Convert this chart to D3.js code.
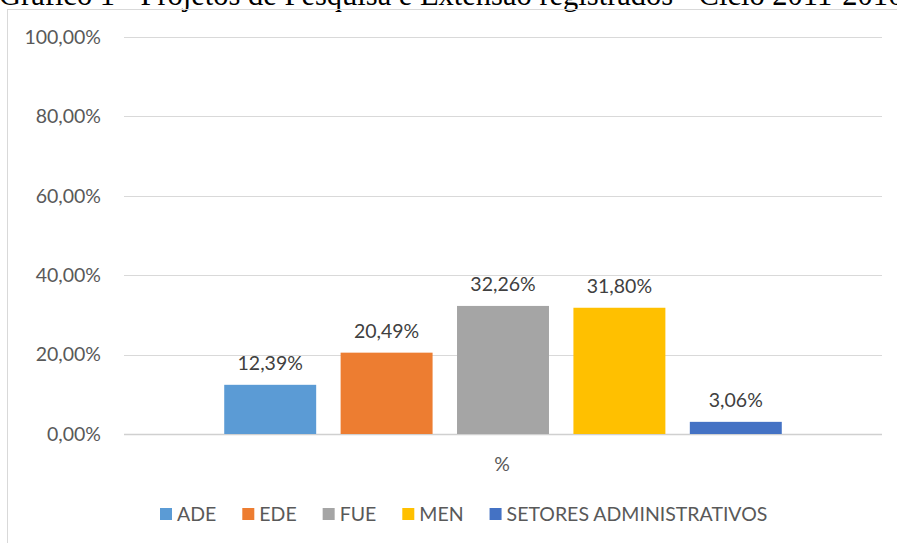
<!DOCTYPE html>
<html>
<head>
<meta charset="utf-8">
<script src="https://cdn.jsdelivr.net/npm/d3@7"></script>
<style>
  body { margin: 0; background: #fff; }
  svg { display: block; font-family: Lato, "Open Sans", sans-serif; }
</style>
</head>
<body>
<svg id="chart"></svg>
<script>
const titleText = "Gráfico 1 - Projetos de Pesquisa e Extensão registrados - Ciclo 2011-2016";
const series = ["ADE", "EDE", "FUE", "MEN", "SETORES ADMINISTRATIVOS"];
const values = [12.39, 20.49, 32.26, 31.80, 3.06];
const colors = ["#5b9bd5", "#ed7d31", "#a5a5a5", "#ffc000", "#4472c4"];
const yTicks = [0, 20, 40, 60, 80, 100];
const categoryLabel = "%";

const w = 897, h = 543;
const fs = 19.5;
const svg = d3.select("#chart").attr("width", w).attr("height", h);

const fmt = v => d3.format(".2f")(v).replace(".", ",") + "%";

// title, cut off at the top like the original
svg.append("text")
    .attr("x", -1)
    .attr("y", 5)
    .attr("font-family", "'Liberation Serif', 'Times New Roman', serif")
    .attr("font-size", 30.5)
    .attr("fill", "#000")
    .text(titleText);

// chart frame
svg.append("rect")
    .attr("x", 7.5).attr("y", 9.5)
    .attr("width", 1000).attr("height", 1000)
    .attr("fill", "none")
    .attr("stroke", "#d9d9d9");

const pLeft = 124, pRight = 882, pTop = 37, pBottom = 434;

const y = d3.scaleLinear().domain([0, 100]).range([pBottom, pTop]);
const x = d3.scaleBand()
    .domain(series)
    .range([212, 794])
    .paddingInner(0.21)
    .paddingOuter(0.105);

// gridlines
svg.append("g")
    .selectAll("line")
    .data(yTicks)
    .join("line")
    .attr("x1", pLeft).attr("x2", pRight)
    .attr("y1", d => Math.round(y(d)) + 0.5)
    .attr("y2", d => Math.round(y(d)) + 0.5)
    .attr("stroke", d => d === 0 ? "#d0d0d0" : "#d9d9d9")
    .attr("stroke-width", d => d === 0 ? 1.5 : 1);

// y axis labels
const yAxis = d3.axisLeft(y).tickValues(yTicks).tickFormat(fmt).tickSize(0).tickPadding(0);
const gy = svg.append("g").attr("transform", `translate(101,0)`).call(yAxis);
gy.select(".domain").remove();
gy.selectAll("text")
    .attr("font-family", "Lato, 'Open Sans', sans-serif")
    .attr("font-size", fs)
    .attr("fill", "#595959");

// bars
svg.append("g")
    .selectAll("rect")
    .data(series)
    .join("rect")
    .attr("x", d => x(d))
    .attr("y", (d, i) => y(values[i]))
    .attr("width", x.bandwidth())
    .attr("height", (d, i) => pBottom - y(values[i]))
    .attr("fill", (d, i) => colors[i]);

// data labels
svg.append("g")
    .selectAll("text")
    .data(series)
    .join("text")
    .attr("x", d => x(d) + x.bandwidth() / 2)
    .attr("y", (d, i) => y(values[i]) - 15)
    .attr("text-anchor", "middle")
    .attr("font-size", fs)
    .attr("fill", "#404040")
    .text((d, i) => fmt(values[i]));

// category label
svg.append("text")
    .attr("x", 502)
    .attr("y", 471)
    .attr("text-anchor", "middle")
    .attr("font-size", fs)
    .attr("fill", "#595959")
    .text(categoryLabel);

// legend
const legend = svg.append("g");
let lx = 0;
series.forEach((s, i) => {
    const item = legend.append("g").attr("transform", `translate(${lx},0)`);
    item.append("rect")
        .attr("x", 0).attr("y", -13)
        .attr("width", 12).attr("height", 12)
        .attr("fill", colors[i]);
    const t = item.append("text")
        .attr("x", 17).attr("y", 0)
        .attr("font-size", fs)
        .attr("fill", "#595959")
        .text(s);
    lx += 17 + t.node().getComputedTextLength() + 26;
});
const legendW = lx - 26;
legend.attr("transform", `translate(${Math.round(464 - legendW / 2)},521)`);
</script>
</body>
</html>
